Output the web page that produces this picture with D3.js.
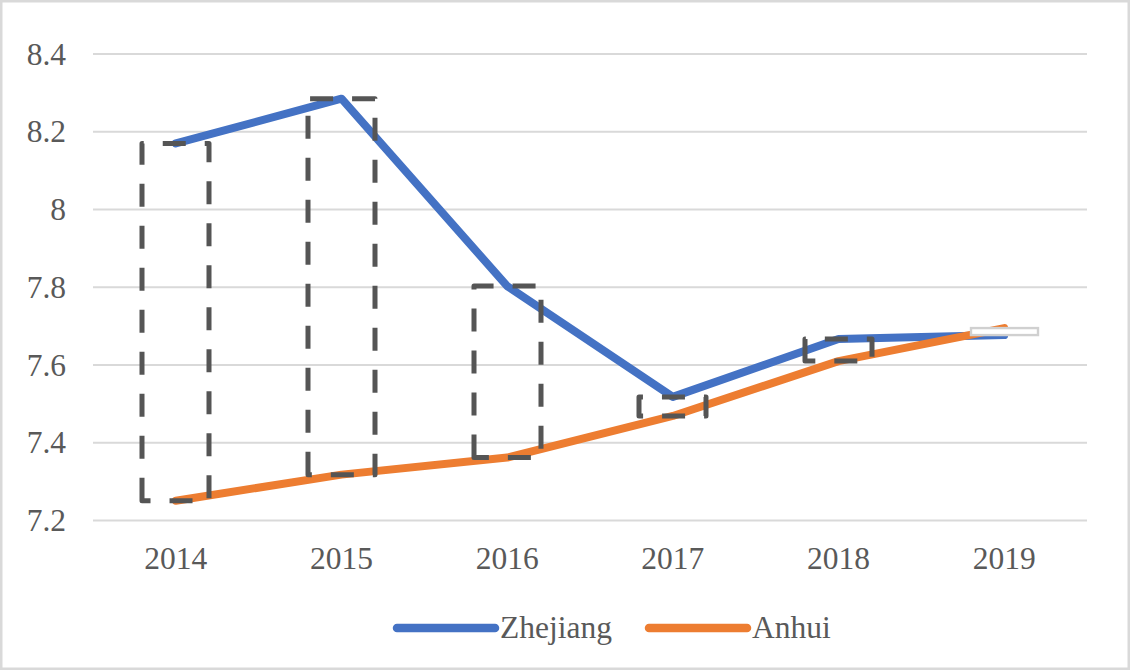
<!DOCTYPE html>
<html><head><meta charset="utf-8">
<script src="https://cdn.jsdelivr.net/npm/d3@7"></script>
<style>html,body{margin:0;padding:0;background:#fff}svg{display:block}
text{font-family:"Liberation Serif","DejaVu Serif",serif;}</style>
</head><body>
<svg id="c" width="1130" height="670"></svg>
<script>
const years = ["2014","2015","2016","2017","2018","2019"];
const zhejiang = [8.17, 8.285, 7.803, 7.518, 7.667, 7.677];
const anhui = [7.251, 7.318, 7.362, 7.469, 7.61, 7.695];
const yTicks = [7.2, 7.4, 7.6, 7.8, 8, 8.2, 8.4];
const seriesNames = ["Zhejiang", "Anhui"];
const colors = ["#4472C4", "#ED7D31"];

const svg = d3.select("#c");
svg.append("rect").attr("x",1.25).attr("y",1.25).attr("width",1127.5).attr("height",667.5)
  .attr("fill","#fff").attr("stroke","#d9d9d9").attr("stroke-width",2.5);

const x = d3.scaleBand().domain(years).range([93,1087]).padding(0);
const y = d3.scaleLinear().domain([7.2,8.4]).range([520.5,54]);
const cx = d => x(d) + x.bandwidth()/2;

// gridlines
svg.append("g").selectAll("line").data(yTicks).join("line")
  .attr("x1",93).attr("x2",1087).attr("y1",d=>y(d)).attr("y2",d=>y(d))
  .attr("stroke","#d9d9d9").attr("stroke-width",2);

// y labels
svg.append("g").selectAll("text").data(yTicks).join("text")
  .attr("x",66).attr("y",d=>y(d)+10.5).attr("text-anchor","end")
  .attr("font-size",31.5).attr("fill","#595959")
  .text(d=>d3.format("")(d));

// x labels
svg.append("g").selectAll("text").data(years).join("text")
  .attr("x",d=>cx(d)).attr("y",569).attr("text-anchor","middle")
  .attr("font-size",31.5).attr("fill","#595959")
  .text(d=>d);

// lines
const line = d3.line().x((d,i)=>cx(years[i])).y(d=>y(d));
[zhejiang, anhui].forEach((s,k)=>{
  svg.append("path").attr("d",line(s)).attr("fill","none")
    .attr("stroke",colors[k]).attr("stroke-width",8)
    .attr("stroke-linejoin","round").attr("stroke-linecap","round");
});

// up/down bars
const bw = x.bandwidth()*0.405;
years.forEach((yr,i)=>{
  const a = zhejiang[i], b = anhui[i];
  const l = Math.round(cx(yr)-bw/2), r = Math.round(cx(yr)+bw/2);
  const top = y(Math.max(a,b)), bot = y(Math.min(a,b));
  if (a >= b) {
    svg.append("path")
      .attr("d",`M${l},${bot}V${top}H${r}V${bot}Z`)
      .attr("fill","none").attr("stroke","#555555").attr("stroke-width",5)
      .attr("stroke-dasharray","23,19").attr("stroke-linejoin","round");
  } else {
    svg.append("rect").attr("x",l).attr("y",top).attr("width",r-l).attr("height",bot-top)
      .attr("fill","#fff").attr("stroke","#d0d0d0").attr("stroke-width",2.4);
  }
});

// legend
const legX = [397, 649];
seriesNames.forEach((n,k)=>{
  svg.append("line").attr("x1",legX[k]).attr("x2",legX[k]+98).attr("y1",628).attr("y2",628)
    .attr("stroke",colors[k]).attr("stroke-width",8.5).attr("stroke-linecap","round");
  svg.append("text").attr("x",legX[k]+103).attr("y",638)
    .attr("font-size",31.5).attr("fill","#595959").text(n);
});
</script>
</body></html>
